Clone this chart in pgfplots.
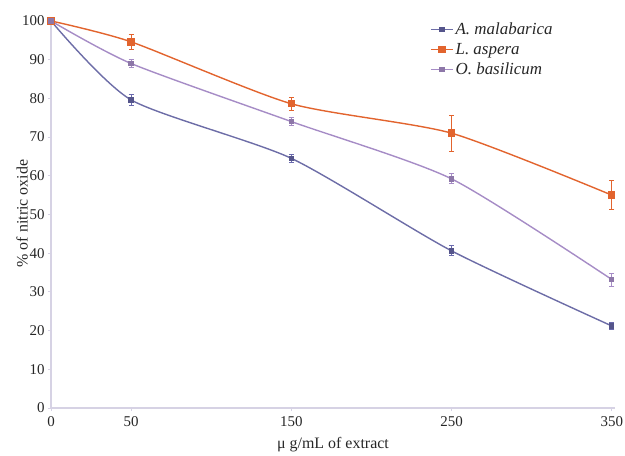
\documentclass[border=0pt]{standalone}
\usepackage{fontspec}
\setmainfont{Liberation Serif}
\usepackage{pgfplots}
\pgfplotsset{compat=1.18}
\definecolor{cA}{HTML}{6A6AAE}
\definecolor{cL}{HTML}{E2642E}
\definecolor{cO}{HTML}{A68CC6}
\definecolor{axc}{HTML}{D6D2E4}
\begin{document}
\begin{tikzpicture}
\path[use as bounding box] (-51bp,-48bp) rectangle (574bp,408bp);
\begin{axis}[
  at={(0,0)}, anchor=south west,
  scale only axis, width=564bp, height=389bp,
  xmin=0, xmax=352, ymin=0, ymax=100.5,
  axis lines*=left,
  axis line style={axc, line width=1.2bp},
  xtick={0,50,150,250,350},
  ytick={0,10,...,100},
  tick align=outside,
  major tick length=3bp,
  tick style={axc, line width=0.8bp},
  /pgf/number format/assume math mode=true,
  tick label style={font=\fontsize{15}{15}\selectfont, text=black!85},
  xticklabel style={yshift=-2bp},
  xlabel={μ g/mL of extract},
  ylabel={\% of nitric oxide},
  label style={font=\fontsize{16}{16}\selectfont, text=black!85},
  xlabel style={at={(axis description cs:0.5,0)}, anchor=center, yshift=-37bp},
  ylabel style={at={(axis description cs:0,0.5)}, anchor=center, yshift=29bp},
  legend style={at={(rel axis cs:0.672,0.995)}, anchor=north west, draw=none, fill=none,
    inner sep=0pt, font=\itshape\fontsize{17}{17}\selectfont, text=black!85,
    row sep=3bp, cells={anchor=west, inner sep=1.5bp}},
  legend image code/.code={\draw[mark repeat=2,mark phase=2,#1] plot coordinates {(0bp,0bp) (11bp,0bp) (22bp,0bp)};},
  every axis plot/.append style={line width=1.4bp, tension=0.4},
]
\addplot+[cA!85!gray, smooth, mark=square*, mark size=2bp, mark options={cA!80!black, solid},
  error bars/.cd, y dir=both, y explicit,
  error bar style={line width=0.8bp, cA}, error mark options={rotate=90, mark size=2.5bp, cA, line width=0.8bp}]
  coordinates {(0,100) +- (0,0) (50,79.6) +- (0,1.5) (150,64.5) +- (0,1.0) (250,40.6) +- (0,1.3) (350,21.2) +- (0,1.0)};
\addlegendentry{A. malabarica}
\addplot+[cL, smooth, mark=square*, mark size=3bp, mark options={cL, solid},
  error bars/.cd, y dir=both, y explicit,
  error bar style={line width=0.8bp, cL}, error mark options={rotate=90, mark size=2.5bp, cL, line width=0.8bp}]
  coordinates {(0,100) +- (0,0) (50,94.6) +- (0,2.0) (150,78.6) +- (0,1.7) (250,71.0) +- (0,4.7) (350,55.0) +- (0,3.7)};
\addlegendentry{L. aspera}
\addplot+[cO, smooth, mark=square*, mark size=2bp, mark options={cO!85!black, solid},
  error bars/.cd, y dir=both, y explicit,
  error bar style={line width=0.8bp, cO}, error mark options={rotate=90, mark size=2.5bp, cO, line width=0.8bp}]
  coordinates {(0,100) +- (0,0) (50,89.0) +- (0,1.0) (150,74.0) +- (0,1.0) (250,59.2) +- (0,1.3) (350,33.2) +- (0,1.7)};
\addlegendentry{O. basilicum}
\end{axis}
\end{tikzpicture}
\end{document}
